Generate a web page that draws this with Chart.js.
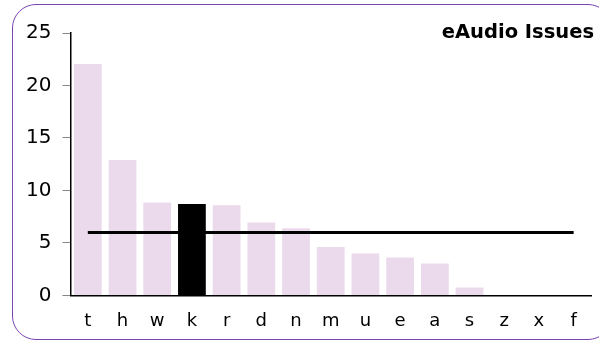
<!DOCTYPE html>
<html>
<head>
<meta charset="utf-8">
<script src="https://cdn.jsdelivr.net/npm/chart.js@4"></script>
<style>
  html, body { margin: 0; padding: 0; background: #fff; overflow: hidden; }
  .wrap { position: relative; width: 599px; height: 345px; overflow: hidden; }
  .frame {
    position: absolute; left: 12px; top: 4px; width: 600px; height: 336px;
    border: 1.5px solid #7b46b4; border-radius: 24px; box-sizing: border-box;
  }
  canvas { position: absolute; left: 0; top: 0; }
</style>
</head>
<body>
<div class="wrap">
  <div class="frame"></div>
  <canvas id="chart" width="599" height="347"></canvas>
</div>
<script>
const labels = ['t', 'h', 'w', 'k', 'r', 'd', 'n', 'm', 'u', 'e', 'a', 's', 'z', 'x', 'f'];
const issues = [22.05, 12.9, 8.85, 8.7, 8.6, 6.95, 6.4, 4.6, 4.0, 3.6, 3.05, 0.75, 0, 0, 0];
const average = [6, 6, 6, 6, 6, 6, 6, 6, 6, 6, 6, 6, 6, 6, 6];
const highlight = 'k';
const yTicks = [0, 5, 10, 15, 20, 25];
const title = 'eAudio Issues';

const barColors = labels.map(l => l === highlight ? '#000000' : '#ebd9ec');

const titlePlugin = {
  id: 'cornerTitle',
  afterDraw(chart) {
    const c = chart.ctx;
    c.save();
    c.font = 'bold 19.5px "DejaVu Sans"';
    c.fillStyle = '#000';
    c.textAlign = 'right';
    c.textBaseline = 'middle';
    c.fillText(title, 594, 33);
    c.restore();
  }
};

const ctx = document.getElementById('chart');
new Chart(ctx, {
  data: {
    labels: labels,
    datasets: [
      {
        type: 'line',
        data: average,
        borderColor: '#000',
        borderWidth: 3,
        pointRadius: 0,
        fill: false,
        order: 0
      },
      {
        type: 'bar',
        data: issues,
        backgroundColor: barColors,
        categoryPercentage: 1,
        barPercentage: 0.8,
        order: 1
      }
    ]
  },
  options: {
    responsive: false,
    animation: false,
    layout: { padding: { left: 15, right: 8, top: 33, bottom: 0 } },
    plugins: { legend: { display: false }, tooltip: { enabled: false } },
    scales: {
      x: {
        grid: { display: false, drawTicks: false },
        border: { color: '#000', width: 1.5 },
        ticks: { color: '#000', font: { family: 'DejaVu Sans', size: 18 }, padding: 15 }
      },
      y: {
        min: 0,
        max: 25,
        afterBuildTicks(axis) { axis.ticks = yTicks.map(v => ({ value: v })); },
        grid: { drawOnChartArea: false, tickLength: 8, color: '#888' },
        border: { color: '#000', width: 1.5 },
        ticks: { color: '#000', font: { family: 'DejaVu Sans', size: 20 }, padding: 11 }
      }
    }
  },
  plugins: [titlePlugin]
});
</script>
</body>
</html>
